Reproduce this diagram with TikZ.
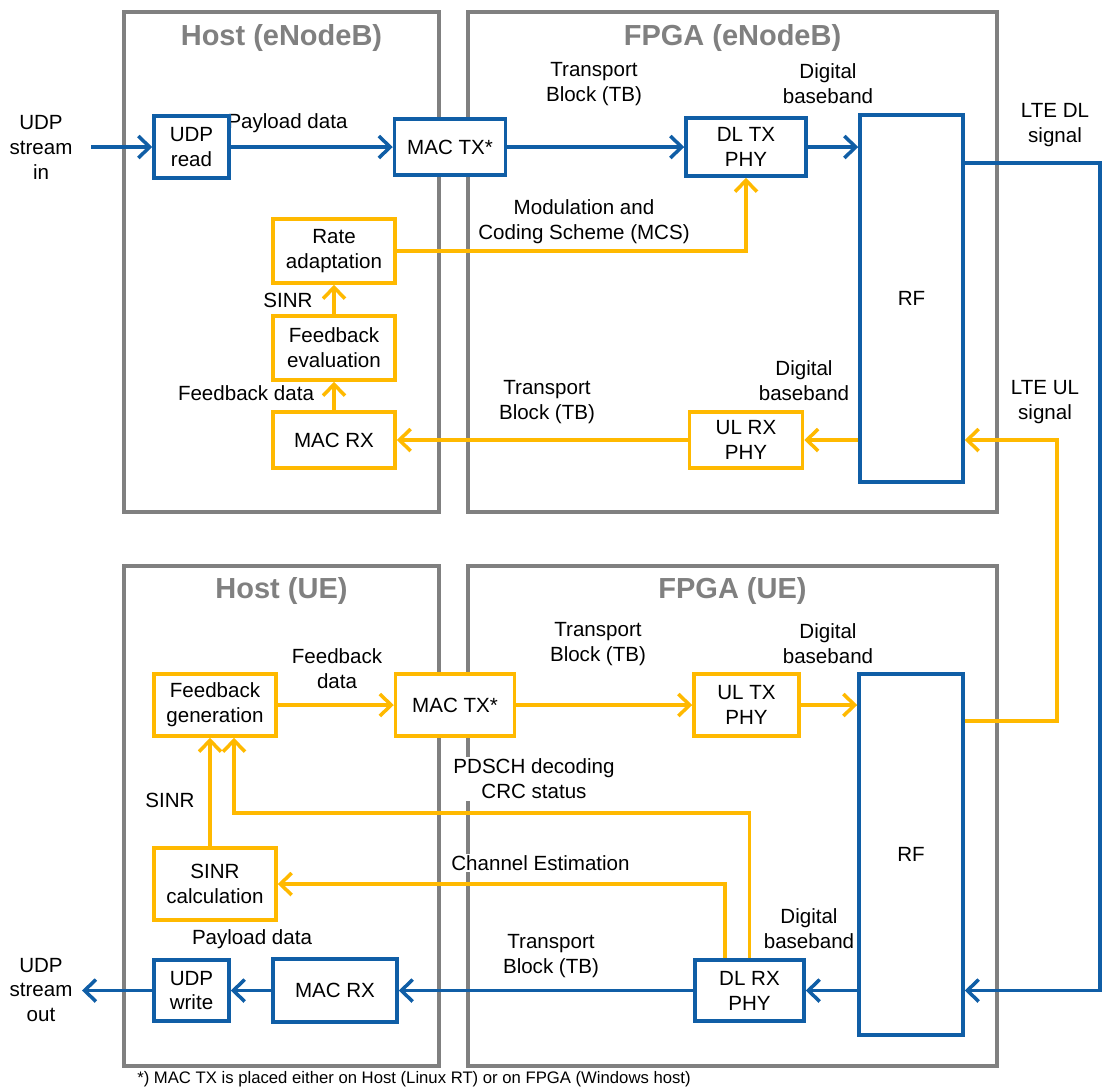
\documentclass[tikz,border=0pt]{standalone}
\usepackage{fontspec}
\setmainfont{Liberation Sans}
\usetikzlibrary{arrows.meta, positioning}
\definecolor{lteblue}{RGB}{16,94,166}
\definecolor{lteyellow}{RGB}{255,185,0}
\definecolor{ltegray}{RGB}{128,128,128}
\tikzset{
  blk/.style={draw, fill=white, line width=2pt, align=center, inner sep=0pt,
              font=\fontsize{11.7}{14.2}\selectfont},
  blueblk/.style={blk, draw=lteblue},
  yellowblk/.style={blk, draw=lteyellow},
  frame/.style={draw=ltegray, line width=2.7pt, inner sep=0pt},
  frametitle/.style={text=ltegray, font=\fontsize{16.5}{19}\selectfont\bfseries},
  lbl/.style={align=center, fill=white, inner sep=1pt, font=\fontsize{11.7}{14.2}\selectfont},
  blueflow/.style={draw=lteblue, line width=2pt, -{Straight Barb[length=6.5pt,width=12.5pt]}},
  yellowflow/.style={draw=lteyellow, line width=2pt, -{Straight Barb[length=6.5pt,width=12.5pt]}},
}
\begin{document}
\begin{tikzpicture}[x=0.02cm, y=-0.02cm]
\useasboundingbox (0,0) rectangle (1104,1090);
% frames
\node[frame, minimum width=6.3cm, minimum height=10cm] (hostenb) at (281.5,262) {};
\node[frame, minimum width=10.58cm, minimum height=10cm] (fpgaenb) at (732.5,262) {};
\node[frame, minimum width=6.3cm, minimum height=10cm] (hostue) at (281.5,816) {};
\node[frame, minimum width=10.58cm, minimum height=10cm] (fpgaue) at (732.5,816) {};
\node[frametitle] (thostenb) at (281.5,38) {Host (eNodeB)};
\node[frametitle] (tfpgaenb) at (732.5,38) {FPGA (eNodeB)};
\node[frametitle] (thostue) at (281.5,591) {Host (UE)};
\node[frametitle] (tfpgaue) at (732.5,591) {FPGA (UE)};
% labels
\node[lbl] (udpin) at (41,147) {UDP\\stream\\in};
\node[lbl] (payin) at (287.5,123) {Payload data};
\node[lbl] (tbdl) at (594,84.5) {Transport\\Block (TB)};
\node[lbl] (bbdl) at (828,84) {Digital\\baseband};
\node[lbl] (dlsig) at (1055,125.5) {LTE DL\\signal};
\node[lbl] (mcs) at (584,222) {Modulation and\\Coding Scheme (MCS)};
\node[lbl] (sinrenb) at (288,300) {SINR};
\node[lbl] (fbdata) at (246,393) {Feedback data};
\node[lbl] (tbul) at (547,402.5) {Transport\\Block (TB)};
\node[lbl] (bbul) at (804,381) {Digital\\baseband};
\node[lbl] (ulsig) at (1045,402.5) {LTE UL\\signal};
\node[lbl] (fbdataue) at (337,668.5) {Feedback\\data};
\node[lbl] (tbulue) at (598,644) {Transport\\Block (TB)};
\node[lbl] (bbulue) at (828,644) {Digital\\baseband};
\node[lbl] (crc) at (534,779) {PDSCH decoding\\CRC status};
\node[lbl] (sinrue) at (170,800) {SINR};
\node[lbl] (chest) at (540.5,863) {Channel Estimation};
\node[lbl] (payout) at (252,939) {Payload data};
\node[lbl] (tbdlue) at (551,956) {Transport\\Block (TB)};
\node[lbl] (bbdlue) at (809,929) {Digital\\baseband};
\node[lbl] (udpout) at (41,990) {UDP\\stream\\out};
\node[font=\fontsize{9.5}{11}\selectfont] (note) at (414,1079)
  {*) MAC TX is placed either on Host (Linux RT) or on FPGA (Windows host)};
% eNodeB blocks
\node[blueblk, minimum width=1.5cm, minimum height=1.24cm] (udpread) at (191.5,147) {UDP\\read};
\node[blueblk, minimum width=2.22cm, minimum height=1.12cm] (mactxenb) at (450,147) {MAC TX*};
\node[blueblk, minimum width=2.4cm, minimum height=1.16cm] (dltx) at (746,147) {DL TX\\PHY};
\node[blueblk, minimum width=2.06cm, minimum height=7.34cm] (rfenb) at (911.5,298.5) {RF};
\node[yellowblk, minimum width=2.44cm, minimum height=1.28cm] (rate) at (334,251) {Rate\\adaptation};
\node[yellowblk, minimum width=2.44cm, minimum height=1.28cm] (fbeval) at (334,348) {Feedback\\evaluation};
\node[yellowblk, minimum width=2.44cm, minimum height=1.12cm] (macrxenb) at (334,440) {MAC RX};
\node[yellowblk, minimum width=2.26cm, minimum height=1.12cm] (ulrx) at (746,440) {UL RX\\PHY};
% UE blocks
\node[yellowblk, minimum width=2.44cm, minimum height=1.24cm] (fbgen) at (215,705) {Feedback\\generation};
\node[yellowblk, minimum width=2.38cm, minimum height=1.24cm] (mactxue) at (455,705) {MAC TX*};
\node[yellowblk, minimum width=2.1cm, minimum height=1.24cm] (ultx) at (746.5,705) {UL TX\\PHY};
\node[blueblk, minimum width=2.08cm, minimum height=7.22cm] (rfue) at (911,854.5) {RF};
\node[yellowblk, minimum width=2.44cm, minimum height=1.44cm] (sinrcalc) at (215,884) {SINR\\calculation};
\node[blueblk, minimum width=2.18cm, minimum height=1.22cm] (dlrx) at (749.5,990.5) {DL RX\\PHY};
\node[blueblk, minimum width=2.48cm, minimum height=1.26cm] (macrxue) at (335,990.5) {MAC RX};
\node[blueblk, minimum width=1.5cm, minimum height=1.22cm] (udpwrite) at (191.5,990.5) {UDP\\write};
% turning points
\coordinate (instart) at (91,147);
\coordinate (outend) at (82,990.5);
\coordinate (dlturn) at (1100,163);
\coordinate (ulturn) at (1057,721);
\coordinate (crcturn) at (234,813);
\coordinate (chturn) at (725,884);
% downlink data path
\draw[blueflow] (instart) -- (udpread.west);
\draw[blueflow] (udpread.east) -- (mactxenb.west);
\draw[blueflow] (mactxenb.east) -- (dltx.west);
\draw[blueflow] (dltx.east) -- (dltx.east -| rfenb.west);
\draw[blueflow] (rfenb.east |- dlturn) -- (dlturn) |- (rfue.east |- dlrx.east);
\draw[blueflow] (rfue.west |- dlrx.east) -- (dlrx.east);
\draw[blueflow] (dlrx.west) -- (macrxue.east);
\draw[blueflow] (macrxue.west) -- (udpwrite.east);
\draw[blueflow] (udpwrite.west) -- (outend);
% feedback path
\draw[yellowflow] (fbgen.east) -- (mactxue.west);
\draw[yellowflow] (mactxue.east) -- (ultx.west);
\draw[yellowflow] (ultx.east) -- (ultx.east -| rfue.west);
\draw[yellowflow] (rfue.east |- ulturn) -- (ulturn) |- (rfenb.east |- ulrx.east);
\draw[yellowflow] (rfenb.west |- ulrx.east) -- (ulrx.east);
\draw[yellowflow] (ulrx.west) -- (macrxenb.east);
\draw[yellowflow] (macrxenb.north) -- (fbeval.south);
\draw[yellowflow] (fbeval.north) -- (rate.south);
\draw[yellowflow] (rate.east) -| (dltx.south);
\draw[yellowflow] (chturn |- dlrx.north) |- (sinrcalc.east);
\draw[yellowflow] (dlrx.north) |- (crcturn) -- (crcturn |- fbgen.south);
\draw[yellowflow] ([xshift=-0.1cm]sinrcalc.north) -- ([xshift=-0.1cm]fbgen.south);
\end{tikzpicture}
\end{document}
